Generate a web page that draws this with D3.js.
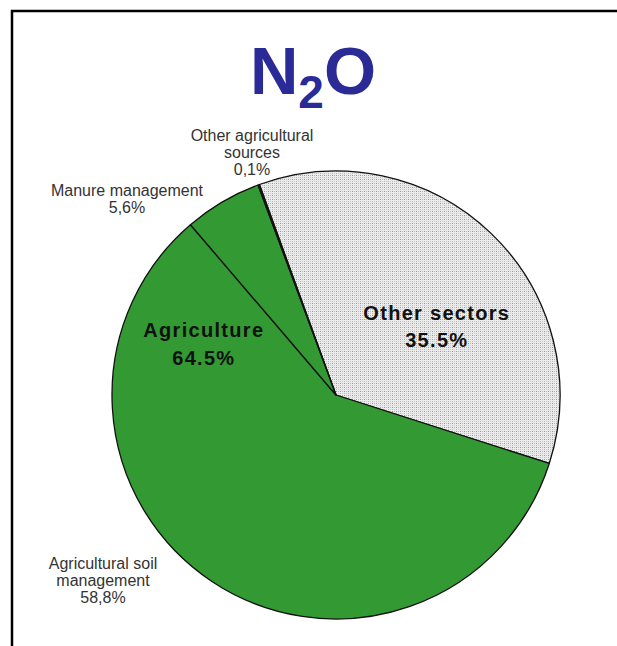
<!DOCTYPE html>
<html>
<head>
<meta charset="utf-8">
<script src="https://cdn.jsdelivr.net/npm/d3@7/dist/d3.min.js"></script>
<style>
  html, body { margin: 0; padding: 0; background: #ffffff; }
  svg { display: block; }
</style>
</head>
<body>
<div id="chart"></div>
<script>
// N2O emissions by source
const categories = ["Other sectors", "Agricultural soil management", "Manure management", "Other agricultural sources"];
const values = [35.5, 58.8, 5.6, 0.1];
const valueLabels = ["35.5%", "58,8%", "5,6%", "0,1%"];
const groupName = "Agriculture";
const groupValue = 64.5; // sum of the agricultural sources

const W = 617, H = 646;
const cx = 336, cy = 395, R = 224;
const startDeg = -20;

const svg = d3.select("#chart").append("svg")
  .attr("width", W).attr("height", H)
  .attr("viewBox", `0 0 ${W} ${H}`);

// dotted grey fill for the non-agricultural share
const defs = svg.append("defs");
const pat = defs.append("pattern")
  .attr("id", "dots").attr("patternUnits", "userSpaceOnUse")
  .attr("width", 4).attr("height", 4);
pat.append("rect").attr("width", 4).attr("height", 4).attr("fill", "#ebebeb");
pat.append("rect").attr("x", 0).attr("y", 0).attr("width", 1).attr("height", 1).attr("fill", "#9a9a9a");
pat.append("rect").attr("x", 2).attr("y", 0).attr("width", 1).attr("height", 1).attr("fill", "#b8b8b8");
pat.append("rect").attr("x", 0).attr("y", 2).attr("width", 1).attr("height", 1).attr("fill", "#b8b8b8");
pat.append("rect").attr("x", 2).attr("y", 2).attr("width", 1).attr("height", 1).attr("fill", "#cfcfcf");

// frame
svg.append("rect")
  .attr("x", 12).attr("y", 11).attr("width", W + 40).attr("height", H + 40)
  .attr("fill", "none").attr("stroke", "#000").attr("stroke-width", 2.5);

// title
const title = svg.append("text")
  .attr("x", 313).attr("y", 94)
  .attr("text-anchor", "middle")
  .attr("font-family", "Liberation Sans, Arial, sans-serif")
  .attr("font-weight", "bold")
  .attr("font-size", 67)
  .attr("fill", "#2b2b98");
title.append("tspan").text("N");
title.append("tspan").attr("font-size", 46).attr("dy", 14).text("2");
title.append("tspan").attr("dy", -14).text("O");

// pie
const start = startDeg * Math.PI / 180;
const pie = d3.pie().sort(null).value(d => d)
  .startAngle(start).endAngle(start + 2 * Math.PI);
const arcs = pie(values);
const arc = d3.arc().innerRadius(0).outerRadius(R);
const fills = ["url(#dots)", "#339933", "#339933", "#339933"];

const g = svg.append("g").attr("transform", `translate(${cx},${cy})`);
g.selectAll("path.slice")
  .data(arcs)
  .join("path")
  .attr("class", "slice")
  .attr("d", arc)
  .attr("fill", (d, i) => fills[i])
  .attr("stroke", "#111")
  .attr("stroke-width", 1.3)
  .attr("stroke-linejoin", "round");

// in-slice labels
const bigFont = {
  "font-family": "Liberation Sans, Arial, sans-serif",
  "font-weight": "bold", "font-size": 20, "letter-spacing": 1.3, "fill": "#111"
};
function block(x, y, lines, style, lh) {
  const t = svg.append("text").attr("text-anchor", "middle");
  Object.entries(style).forEach(([k, v]) => t.attr(k, v));
  lines.forEach((s, i) => t.append("tspan").attr("x", x).attr("y", y + i * lh).text(s));
  return t;
}
block(cx + R * 0.45, cy - R * 0.335, [categories[0], valueLabels[0]], bigFont, 27);
block(cx - R * 0.59, cy - R * 0.26, [groupName, groupValue.toFixed(1) + "%"], bigFont, 28);

// outside labels for the agricultural sources
const smallFont = {
  "font-family": "Liberation Sans, Arial, sans-serif",
  "font-size": 16, "fill": "#333"
};
block(252, 141, ["Other agricultural", "sources", valueLabels[3]], smallFont, 17);
block(127, 196, [categories[2], valueLabels[2]], smallFont, 17);
block(103, 569, ["Agricultural soil", "management", valueLabels[1]], smallFont, 17);
</script>
</body>
</html>
